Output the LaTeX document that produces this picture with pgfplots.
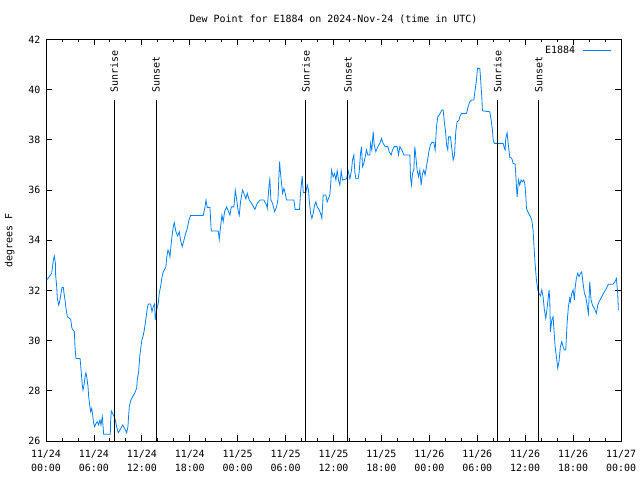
\documentclass[border=0pt]{standalone}
\usepackage{pgfplots}
\pgfplotsset{compat=1.18}
\usepackage{fontspec}
\setmainfont{DejaVu Sans Mono}
\definecolor{dewblue}{RGB}{0,128,255}
\begin{document}
\fontsize{10}{12}\selectfont
\begin{tikzpicture}
\useasboundingbox (0,0) rectangle (640bp,480bp);
\begin{axis}[
  at={(46bp,39bp)}, anchor=south west,
  scale only axis, width=575bp, height=401.5bp,
  xmin=0, xmax=72, ymin=26, ymax=42,
  xtick={0,6,...,72}, minor x tick num=2,
  xticklabels={{11/24\\00:00},{11/24\\06:00},{11/24\\12:00},{11/24\\18:00},
    {11/25\\00:00},{11/25\\06:00},{11/25\\12:00},{11/25\\18:00},
    {11/26\\00:00},{11/26\\06:00},{11/26\\12:00},{11/26\\18:00},{11/27\\00:00}},
  x tick label style={align=center, font=\fontsize{10}{14}\selectfont, yshift=-6bp},
  y tick label style={xshift=-2bp},
  ytick={26,28,...,42},
  /pgf/number format/assume math mode=true,
  tick align=inside,
  major tick length=6bp, minor tick length=3bp,
  every tick/.style={black, line width=0.8bp},
  axis line style={line width=0.8bp},
  title={Dew Point for E1884 on 2024-Nov-24 (time in UTC)},
  title style={at={(0.5,1)}, anchor=center, yshift=14bp},
  ylabel={degrees F},
  ylabel style={at={(axis description cs:-0.063,0.5)}, anchor=center},
  legend plot pos=right,
  legend style={at={(1,1)}, anchor=north east, draw=none, fill=none,
    xshift=-6bp, yshift=-2bp},
  legend image code/.code={\path (0bp,0bp); \draw[#1] (6bp,0bp) -- (34bp,0bp);},
]
\addplot[dewblue, line width=0.8bp] coordinates {
(0.08,32.41) (0.71,32.68) (0.92,33.2) (1.04,33.37) (1.17,33.1) (1.21,32.6) (1.34,32.15) (1.42,31.68)
(1.59,31.42) (1.67,31.5) (1.84,31.8) (2.0,32.12) (2.17,32.12) (2.25,31.9) (2.38,31.62) (2.5,31.29)
(2.67,30.95) (3.09,30.85) (3.25,30.49) (3.55,30.35) (3.63,29.76) (3.75,29.29) (4.26,29.29) (4.34,29.03)
(4.42,28.7) (4.55,28.23) (4.63,28.03) (4.76,28.23) (4.92,28.63) (5.0,28.72) (5.13,28.5) (5.26,28.16)
(5.34,27.79) (5.47,27.43) (5.59,27.17) (5.72,27.3) (5.84,27.04) (5.97,26.7) (6.09,26.57) (6.26,26.7)
(6.42,26.77) (6.59,26.64) (6.76,26.84) (6.88,26.64) (7.05,26.97) (7.13,26.64) (7.22,26.27) (8.05,26.27)
(8.09,26.77) (8.18,27.2) (8.34,27.1) (8.51,26.99) (8.68,26.84) (8.84,26.57) (9.05,26.33) (9.26,26.44)
(9.6,26.64) (9.85,26.5) (10.1,26.33) (10.26,26.57) (10.34,26.97) (10.43,27.37) (10.6,27.6) (10.85,27.77)
(11.1,27.9) (11.35,28.1) (11.43,28.43) (11.6,28.76) (11.68,29.1) (11.76,29.43) (11.89,29.76) (12.01,30.02)
(12.18,30.22) (12.31,30.42) (12.43,30.69) (12.56,30.98) (12.68,31.29) (12.81,31.46) (13.1,31.46) (13.27,31.15)
(13.43,31.35) (13.6,31.46) (13.68,30.82) (13.85,31.22) (14.06,31.49) (14.18,31.88) (14.35,32.15) (14.52,32.52)
(14.68,32.74) (15.02,32.94) (15.1,33.28) (15.27,33.61) (15.44,33.48) (15.52,33.34) (15.64,33.74) (15.77,34.14)
(15.94,34.54) (16.06,34.7) (16.27,34.34) (16.48,34.17) (16.69,34.34) (16.85,34.0) (17.06,33.74) (17.27,34.0)
(17.48,34.27) (17.69,34.47) (17.9,34.8) (18.11,34.99) (19.69,34.99) (19.9,35.31) (20.03,35.6) (20.19,35.31)
(20.53,35.31) (20.69,34.37) (21.57,34.37) (21.69,34.03) (21.86,34.54) (22.03,35.0) (22.19,34.74) (22.36,35.14)
(22.61,35.33) (22.86,35.14) (23.03,35.0) (23.2,35.33) (23.53,35.33) (23.7,36.0) (23.86,35.67) (24.07,35.14)
(24.2,35.0) (24.36,35.53) (24.61,36.0) (24.78,35.87) (25.03,35.65) (25.2,35.87) (25.45,35.6) (25.74,35.47)
(26.16,35.23) (26.45,35.47) (26.78,35.6) (27.28,35.6) (27.62,35.4) (27.7,35.27) (27.95,36.27) (28.03,36.43)
(28.16,35.6) (28.37,35.47) (28.62,35.14) (28.87,35.33) (29.04,35.6) (29.24,37.13) (29.37,36.66) (29.54,36.13)
(29.62,35.87) (29.79,36.07) (29.95,35.87) (30.12,35.6) (31.04,35.6) (31.2,35.23) (31.75,35.23) (31.87,35.87)
(32.08,36.56) (32.21,35.9) (32.54,35.9) (32.71,36.2) (32.87,36.0) (32.96,35.6) (33.13,35.07) (33.29,34.87)
(33.46,35.07) (33.63,35.4) (33.79,35.53) (33.96,35.33) (34.21,35.2) (34.38,35.07) (34.54,34.87) (34.71,35.8)
(35.04,35.8) (35.21,35.53) (35.38,35.67) (35.54,35.8) (35.67,36.33) (35.75,36.8) (35.96,36.53) (36.13,36.66)
(36.3,36.4) (36.46,36.77) (36.63,36.4) (36.8,36.2) (36.96,36.77) (37.13,36.4) (37.63,36.45) (37.84,36.77)
(38.05,36.45) (38.26,36.8) (38.38,37.2) (38.55,37.4) (38.67,36.73) (38.8,36.45) (39.09,36.45) (39.22,36.73)
(39.38,37.46) (39.51,37.73) (39.63,36.93) (39.8,37.07) (39.97,37.33) (40.13,37.6) (40.3,37.4) (40.55,37.4)
(40.63,37.86) (40.8,37.6) (40.97,38.33) (41.09,37.8) (41.3,37.53) (41.55,37.73) (41.8,37.86) (42.01,38.06)
(42.22,37.86) (42.47,37.73) (42.8,37.73) (42.97,37.53) (43.22,37.4) (43.39,37.6) (43.6,37.73) (43.97,37.73)
(44.14,37.4) (44.31,37.73) (44.56,37.6) (44.81,37.4) (45.56,37.4) (45.64,36.53) (45.77,36.2) (45.89,36.66)
(46.06,36.8) (46.18,37.73) (46.31,37.33) (46.47,36.8) (46.64,36.53) (46.81,36.8) (46.98,36.2) (47.14,36.66)
(47.31,36.8) (47.47,36.6) (47.64,36.93) (47.81,37.26) (47.98,37.6) (48.14,37.8) (48.31,37.9) (48.56,37.9)
(48.73,37.6) (48.81,38.02) (48.89,38.52) (49.06,38.92) (49.23,38.99) (49.4,39.08) (49.56,39.19) (49.73,39.19)
(49.9,38.65) (50.06,38.25) (50.15,37.8) (50.31,37.6) (50.4,38.12) (50.65,38.12) (50.81,37.67) (50.98,37.2)
(51.15,37.4) (51.31,38.33) (51.48,38.72) (51.73,38.79) (51.81,38.92) (52.02,39.05) (52.65,39.05) (52.86,39.32)
(53.07,39.52) (53.28,39.59) (53.57,39.59) (53.73,39.98) (53.9,40.38) (54.03,40.85) (54.32,40.85) (54.4,40.52)
(54.48,40.12) (54.57,39.72) (54.65,39.16) (55.57,39.12) (55.74,38.79) (55.9,38.39) (55.99,37.99) (56.15,37.86)
(57.24,37.86) (57.4,37.66) (57.49,37.6) (57.57,38.06) (57.74,38.28) (57.82,38.0) (57.99,37.53) (58.07,37.3)
(58.32,37.27) (58.49,37.06) (58.74,37.04) (58.82,36.66) (58.91,36.13) (58.99,35.73) (59.16,36.4) (59.32,36.2)
(59.49,36.4) (59.66,36.33) (59.82,36.4) (59.95,36.27) (60.08,35.8) (60.16,35.27) (60.33,35.14) (60.49,35.04)
(60.66,34.94) (60.83,34.8) (60.99,34.4) (61.12,33.68) (61.24,33.08) (61.41,32.41) (61.58,32.02) (61.74,31.88)
(61.91,31.78) (62.08,32.02) (62.24,31.75) (62.41,31.22) (62.58,30.89) (62.74,31.28) (62.91,31.78) (62.99,32.02)
(63.08,31.62) (63.16,30.35) (63.33,30.82) (63.5,30.95) (63.58,30.55) (63.75,29.76) (63.91,29.36) (64.08,28.9)
(64.25,29.2) (64.41,29.76) (64.58,29.96) (64.75,29.76) (64.91,29.63) (65.08,29.63) (65.25,30.69) (65.41,31.35)
(65.58,31.68) (65.66,31.55) (65.83,31.88) (66.0,32.02) (66.17,31.62) (66.25,32.08) (66.41,32.48) (66.58,32.68)
(66.75,32.55) (66.92,32.68) (67.08,32.74) (67.25,32.28) (67.42,31.88) (67.58,31.75) (67.75,31.42) (67.92,31.08)
(68.09,32.35) (68.25,31.62) (68.42,31.42) (68.67,31.28) (68.92,31.08) (69.09,31.42) (69.25,31.55) (69.59,31.75)
(69.92,31.95) (70.17,32.08) (70.42,32.25) (71.0,32.25) (71.25,32.35) (71.42,32.48) (71.59,31.88) (71.67,31.22)
};
\addlegendentry{E1884}
% sunrise / sunset markers
\addplot[black, line width=0.8bp, forget plot] coordinates {(8.55,26) (8.55,39.6)};
\addplot[black, line width=0.8bp, forget plot] coordinates {(13.77,26) (13.77,39.6)};
\addplot[black, line width=0.8bp, forget plot] coordinates {(32.54,26) (32.54,39.6)};
\addplot[black, line width=0.8bp, forget plot] coordinates {(37.8,26) (37.8,39.6)};
\addplot[black, line width=0.8bp, forget plot] coordinates {(56.57,26) (56.57,39.6)};
\addplot[black, line width=0.8bp, forget plot] coordinates {(61.7,26) (61.7,39.6)};
\node[rotate=90, anchor=west, inner sep=0pt] at (axis cs:8.55,39.87) {Sunrise};
\node[rotate=90, anchor=west, inner sep=0pt] at (axis cs:13.77,39.87) {Sunset};
\node[rotate=90, anchor=west, inner sep=0pt] at (axis cs:32.54,39.87) {Sunrise};
\node[rotate=90, anchor=west, inner sep=0pt] at (axis cs:37.8,39.87) {Sunset};
\node[rotate=90, anchor=west, inner sep=0pt] at (axis cs:56.57,39.87) {Sunrise};
\node[rotate=90, anchor=west, inner sep=0pt] at (axis cs:61.7,39.87) {Sunset};
\end{axis}
\end{tikzpicture}
\end{document}
